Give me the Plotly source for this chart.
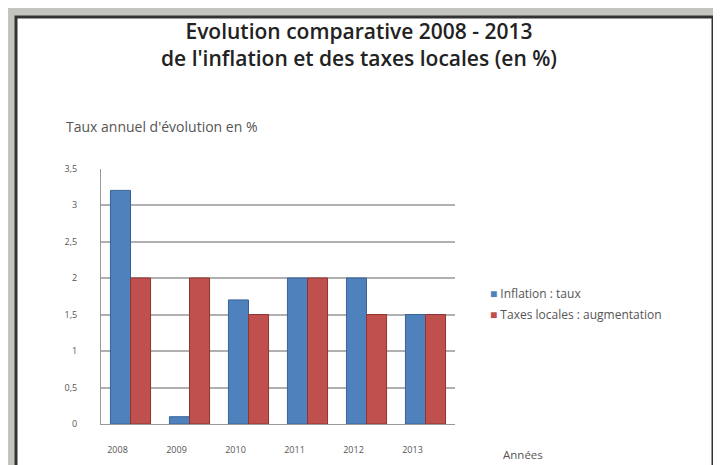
import plotly.graph_objects as go

years = ["2008", "2009", "2010", "2011", "2012", "2013"]
inflation = [3.2, 0.1, 1.7, 2.0, 2.0, 1.5]
taxes = [2.0, 2.0, 1.5, 2.0, 1.5, 1.5]
y_tickvals = [0, 0.5, 1, 1.5, 2, 2.5, 3, 3.5]
y_ticktext = ["0", "0,5", "1", "1,5", "2", "2,5", "3", "3,5"]

# page body has an 8px margin; the figure fills the rest of the window
OFF = 8
W, H = 713, 457

def px(x):
    return (x - OFF) / W

def py(y):
    return (H - (y - OFF)) / H

BLUE = "#4F81BD"
RED = "#C0504D"

fig = go.Figure()
fig.add_trace(go.Bar(x=years, y=inflation, name="Inflation : taux",
                     marker=dict(color=BLUE, line=dict(color="#3A6296", width=1))))
fig.add_trace(go.Bar(x=years, y=taxes, name="Taxes locales : augmentation",
                     marker=dict(color=RED, line=dict(color="#8E3532", width=1))))

tf = "Open Sans"
fig.update_layout(
    width=W, height=H, autosize=False,
    margin=dict(l=0, r=0, t=0, b=0),
    paper_bgcolor="#c4c4bf",
    plot_bgcolor="rgba(0,0,0,0)",
    barmode="group", bargap=0.32, bargroupgap=0,
    font=dict(family=tf, color="#444"),
    showlegend=False,
    xaxis=dict(domain=[px(101), px(455)], showgrid=False, showline=True,
               linecolor="#999", linewidth=1, tickfont=dict(size=9, color="#555"),
               ticks="", ticklabelstandoff=17, ticklabelshift=-13),
    yaxis=dict(domain=[py(429), py(166)], range=[0, 3.5], tickvals=y_tickvals,
               ticktext=y_ticktext, showgrid=True, gridcolor="#b0b0b0", gridwidth=1.5,
               showline=True, linecolor="#999", zeroline=False,
               tickfont=dict(size=9, color="#555"), ticks="", ticklabelstandoff=21),
    shapes=[dict(type="rect", xref="paper", yref="paper",
                 x0=px(16), x1=px(713), y0=-0.05, y1=py(10),
                 fillcolor="white", line=dict(color="#333", width=3), layer="below")],
    annotations=[
        dict(text="Evolution comparative 2008 - 2013<br>de l'inflation et des taxes locales (en %)",
             xref="paper", yref="paper", x=px(359), y=py(38), yanchor="middle",
             showarrow=False, align="center",
             font=dict(size=21, color="#222", weight=600)),
        dict(text="Taux annuel d'évolution en %", xref="paper", yref="paper",
             x=px(64), y=py(123), xanchor="left", yanchor="middle", showarrow=False,
             font=dict(size=14, color="#555")),
        dict(text="Années", xref="paper", yref="paper",
             x=px(501), y=py(460), xanchor="left", yanchor="middle", showarrow=False,
             font=dict(size=11.5, color="#555")),
        dict(text=f"<span style='color:{BLUE}'>■</span> Inflation : taux",
             xref="paper", yref="paper", x=px(488), y=py(295), xanchor="left",
             yanchor="middle", showarrow=False, font=dict(size=12, color="#555")),
        dict(text=f"<span style='color:{RED}'>■</span> Taxes locales : augmentation",
             xref="paper", yref="paper", x=px(488), y=py(316), xanchor="left",
             yanchor="middle", showarrow=False, font=dict(size=12, color="#555")),
    ],
)

fig.write_html("out.html")
